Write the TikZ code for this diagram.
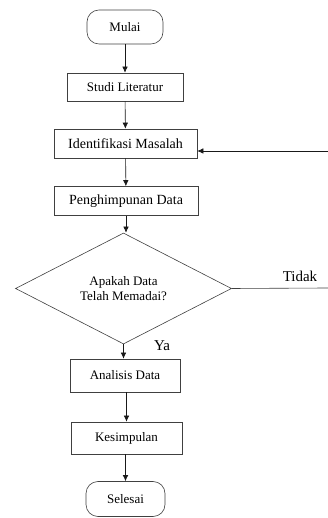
\documentclass[tikz,border=0pt]{standalone}
\usepackage{fontspec}
\setmainfont{Liberation Serif}
\usetikzlibrary{shapes.geometric}
\usetikzlibrary{arrows.meta}

\begin{document}
\begin{tikzpicture}[x=1pt,y=1pt,
        proses/.style={draw=black!75,line width=0.6pt,rectangle,inner sep=0pt,font=\fontsize{13}{15}\selectfont},
        terminal/.style={draw=black!75,line width=0.6pt,rectangle,rounded corners=12pt,inner sep=0pt,font=\fontsize{13}{15}\selectfont},
        keputusan/.style={draw=black!75,line width=0.6pt,diamond,inner sep=0pt,align=center,font=\fontsize{13}{15}\selectfont},
        label/.style={font=\fontsize{15}{17}\selectfont},
        panah/.style={-{Latex[length=6pt,width=5.5pt]},line width=0.6pt,black!90}]
    \useasboundingbox (0,0) rectangle (328,518);

    \node[terminal,minimum width=76pt,minimum height=34pt] (mulai) at (125,491) {Mulai};
    \node[proses,minimum width=116pt,minimum height=28pt] (studi) at (125,431) {Studi Literatur};
    \node[proses,minimum width=143pt,minimum height=29pt,font=\fontsize{14}{16}\selectfont] (identifikasi) at (125.5,374.5) {Identifikasi Masalah};
    \node[proses,minimum width=144pt,minimum height=29pt,font=\fontsize{14}{16}\selectfont] (penghimpunan) at (126,317) {Penghimpunan Data};
    \node[keputusan,minimum width=216pt,minimum height=87pt] (memadai) at (123.5,229.5) {Apakah Data\\Telah Memadai?};
    \node[proses,minimum width=110pt,minimum height=33pt] (analisis) at (125,142.5) {Analisis Data};
    \node[proses,minimum width=111pt,minimum height=32pt] (kesimpulan) at (126.5,80) {Kesimpulan};
    \node[terminal,minimum width=79pt,minimum height=35pt] (selesai) at (125.5,19) {Selesai};

    \coordinate (masuk) at (328,367);
    \coordinate (keluar) at (328,230);

    \draw[panah] (mulai) -- (studi);
    \draw[panah] (studi) -- (identifikasi);
    \draw[panah] (identifikasi) -- (penghimpunan);
    \draw[panah] (penghimpunan.south) -- (memadai.north -| penghimpunan.south);
    \draw[panah] (memadai.south) -- (analisis.north -| memadai.south);
    \draw[panah] (analisis.south -| kesimpulan) -- (kesimpulan);
    \draw[panah] (kesimpulan.south -| selesai) -- (selesai);
    \draw[black!75,line width=0.6pt] (memadai.east) -- (keluar);
    \draw[panah] (masuk) -- (identifikasi.east |- masuk);

    \node[label] (tidak) at (300,242) {Tidak};
    \node[label] (ya) at (162,172) {Ya};
\end{tikzpicture}
\end{document}
